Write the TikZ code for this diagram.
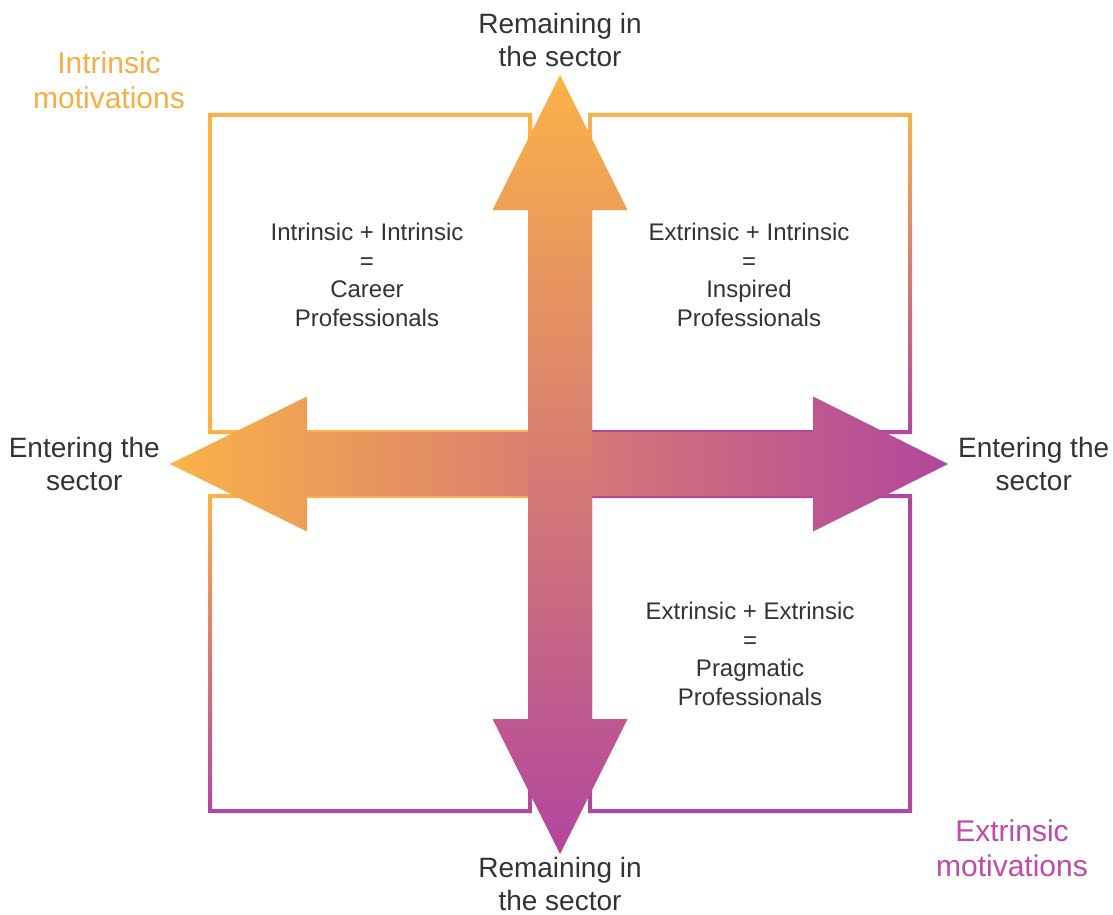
\documentclass[tikz,border=0pt]{standalone}
\usepackage{fontspec}
\setmainfont{Liberation Sans}
\usetikzlibrary{positioning}

\definecolor{intr}{RGB}{250,178,72}
\definecolor{extr}{RGB}{178,70,158}
\definecolor{txt}{RGB}{51,51,51}
\definecolor{intrtxt}{RGB}{247,174,66}
\definecolor{extrtxt}{RGB}{192,74,172}

\begin{document}
\begin{tikzpicture}[x=1pt,y=-1pt,
    lbl/.style={align=center,inner sep=0pt,text=txt,font=\fontsize{28}{33.5}\selectfont},
    mot/.style={align=center,inner sep=0pt,font=\fontsize{30}{35}\selectfont},
    quad/.style={align=center,inner sep=0pt,text=txt,font=\fontsize{24}{28.5}\selectfont},
    ring/.style={even odd rule}]

    \useasboundingbox (0,0) rectangle (1113,915);

    % quadrant frames
    \fill[ring,intr] (208,113) rectangle (532,434) (212,117) rectangle (528,430);
    \shade[ring,top color=intr,bottom color=extr] (588,113) rectangle (912,434) (592,117) rectangle (908,430);
    \shade[ring,top color=intr,bottom color=extr] (208,494) rectangle (532,813) (212,498) rectangle (528,809);
    \fill[ring,extr] (588,494) rectangle (912,813) (592,498) rectangle (908,809);

    % arrow tips
    \coordinate (ttip) at (560,75);
    \coordinate (btip) at (560,854);
    \coordinate (ltip) at (170,464);
    \coordinate (rtip) at (948,464);

    % horizontal arrow
    \shade[left color=intr,right color=extr] (ltip) -- (307,396.5) -- (307,432) -- (813,432)
        -- (813,396.5) -- (rtip) -- (813,531.5) -- (813,496) -- (307,496) -- (307,531.5) -- cycle;
    % vertical arrow
    \shade[top color=intr,bottom color=extr] (ttip) -- (627.5,210) -- (592,210) -- (592,719)
        -- (627.5,719) -- (btip) -- (492.5,719) -- (528,719) -- (528,210) -- (492.5,210) -- cycle;

    \node[lbl] (remtop) [above=8pt of ttip] {Remaining in\\the sector};
    \node[lbl,font=\fontsize{28}{32.5}\selectfont] (rembot) [below=3pt of btip] {Remaining in\\the sector};
    \node[lbl] (entl) [left=10pt of ltip] {Entering the\\sector};
    \node[lbl] (entr) [right=10pt of rtip] {Entering the\\sector};

    \node[mot,text=intrtxt] (intmot) at (109,80) {Intrinsic\\motivations};
    \node[mot,text=extrtxt] (extmot) at (1012,848) {Extrinsic\\motivations};

    \node[quad] (career) at (367,275) {Intrinsic + Intrinsic\\=\\Career\\Professionals};
    \node[quad] (inspired) at (749,275) {Extrinsic + Intrinsic\\=\\Inspired\\Professionals};
    \node[quad] (pragm) at (750,654) {Extrinsic + Extrinsic\\=\\Pragmatic\\Professionals};

\end{tikzpicture}
\end{document}
